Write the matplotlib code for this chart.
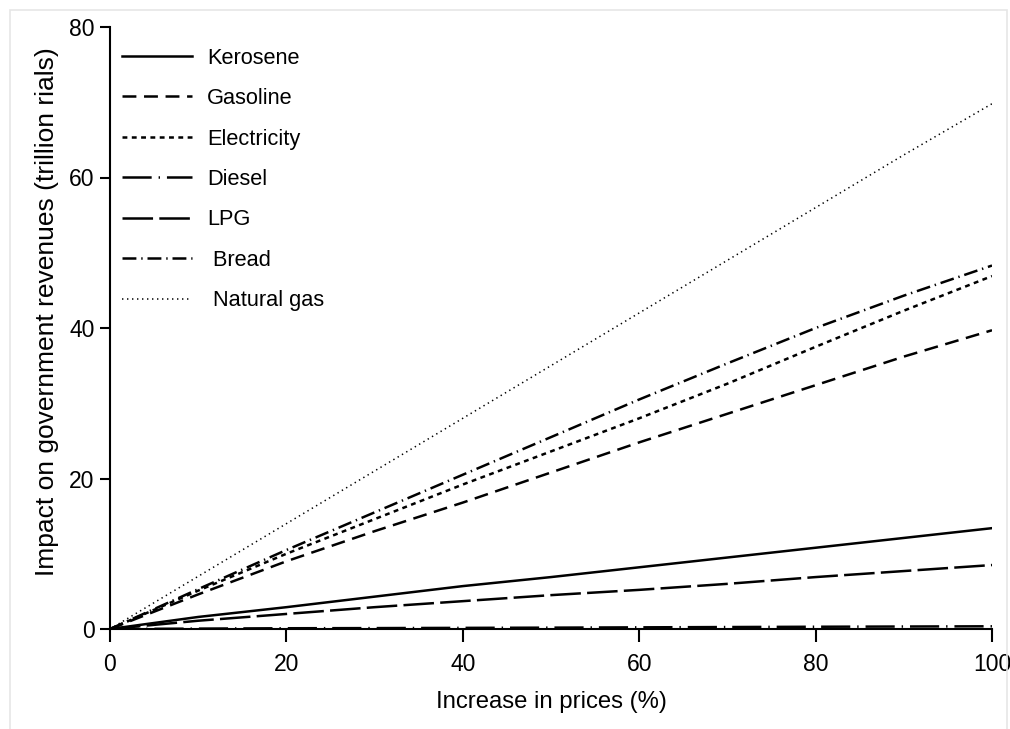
import numpy as np
import matplotlib
matplotlib.use("Agg")
import matplotlib.pyplot as plt
from matplotlib.patches import Rectangle

plt.rcParams["font.family"] = ["Liberation Sans", "DejaVu Sans"]
plt.rcParams["lines.scale_dashes"] = False

# Price increase (%)
price_increase = [0, 10, 20, 30, 40, 50, 60, 70, 80, 90, 100]

# Impact on government revenues (trillion rials)
kerosene = [0, 1.6, 2.9, 4.3, 5.7, 6.9, 8.2, 9.5, 10.8, 12.1, 13.4]
gasoline = [0, 4.6, 9.0, 13.0, 16.8, 20.8, 24.8, 28.6, 32.4, 36.2, 39.7]
electricity = [0, 5.1, 10.0, 14.6, 19.2, 23.6, 28.0, 32.6, 37.5, 42.3, 46.9]
diesel = [0, 0.05, 0.1, 0.12, 0.15, 0.18, 0.22, 0.26, 0.3, 0.33, 0.36]
lpg = [0, 1.1, 2.0, 2.9, 3.7, 4.5, 5.2, 6.0, 6.9, 7.7, 8.5]
bread = [0, 5.3, 10.5, 15.5, 20.5, 25.5, 30.5, 35.3, 40.0, 44.3, 48.3]
natural_gas = [0, 7.0, 14.0, 21.0, 28.0, 35.0, 42.0, 49.0, 56.0, 63.0, 69.8]

series = [
    ("Kerosene", kerosene, "-", 1.8),
    ("Gasoline", gasoline, (0, (10, 5.5)), 1.8),
    ("Electricity", electricity, (0, (3.5, 3.2)), 1.8),
    ("Diesel", diesel, (0, (21, 5, 1, 5)), 1.8),
    ("LPG", lpg, (0, (22, 4.5)), 1.8),
    (" Bread", bread, (0, (10, 3.5, 1, 3.5)), 1.8),
    (" Natural gas", natural_gas, (0, (1, 2.6)), 1.1),
]

fig = plt.figure(figsize=(10.1, 7.29), dpi=100)
ax = fig.add_axes([110 / 1010, 1 - 629 / 729, 882 / 1010, 602 / 729])

for name, vals, ls, lw in series:
    ax.plot(price_increase, vals, color="black", linestyle=ls, linewidth=lw, label=name)

ax.set_xlim(0, 100)
ax.set_ylim(0, 80)
ax.set_xticks([0, 20, 40, 60, 80, 100])
ax.set_yticks([0, 20, 40, 60, 80])

for side in ["top", "right"]:
    ax.spines[side].set_visible(False)
for side in ["left", "bottom"]:
    ax.spines[side].set_linewidth(1.5)

ax.tick_params(axis="x", direction="out", length=9, width=1.5, pad=8, labelsize=16.5)
ax.tick_params(axis="y", direction="out", length=7, width=1.5, pad=4, labelsize=16.5)

ax.set_xlabel("Increase in prices (%)", fontsize=17.2, labelpad=11)
ax.set_ylabel("Impact on government revenues (trillion rials)", fontsize=19)
ax.yaxis.set_label_coords(-0.058, 0.528)

ax.legend(loc="upper left", bbox_to_anchor=(-0.01, 1.0), frameon=False, fontsize=15.7,
          handlelength=3.2, handletextpad=0.72, labelspacing=0.89, borderaxespad=0.55)

# faint outer border like the source image
fig.patches.append(Rectangle((10 / 1010, -0.01), 997 / 1010, 1 - 10 / 729 + 0.01,
                             transform=fig.transFigure, fill=False,
                             edgecolor="#e6e6e6", linewidth=1.2))

fig.savefig("out.png", dpi=100)
